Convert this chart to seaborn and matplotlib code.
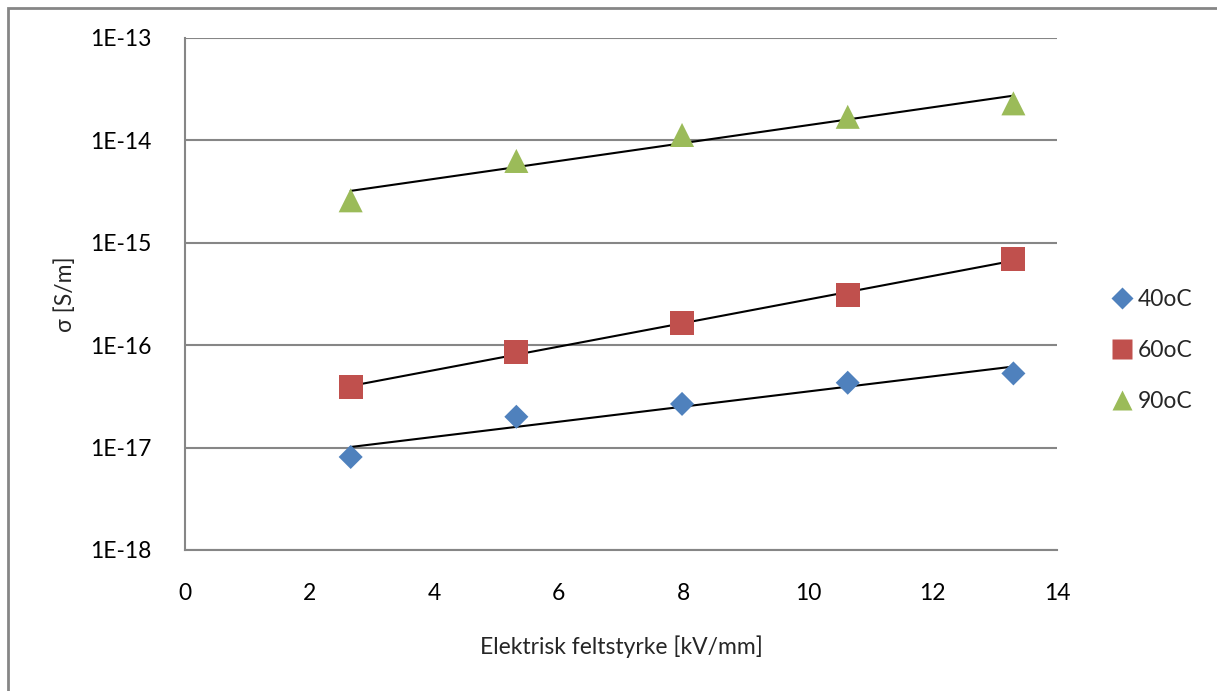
import numpy as np
import pandas as pd
import matplotlib
matplotlib.use("Agg")
import matplotlib.pyplot as plt
import seaborn as sns
from matplotlib.patches import Rectangle
from matplotlib.ticker import FixedLocator, FixedFormatter
from matplotlib.lines import Line2D

# ---- data ----
field = [2.66, 5.32, 7.98, 10.64, 13.30]
sigma_40 = [8.1e-18, 2.0e-17, 2.67e-17, 4.3e-17, 5.3e-17]
sigma_60 = [3.9e-17, 8.5e-17, 1.65e-16, 3.1e-16, 6.9e-16]
sigma_90 = [2.6e-15, 6.3e-15, 1.13e-14, 1.7e-14, 2.3e-14]
series_names = ["40oC", "60oC", "90oC"]
ytick_vals = [1e-18, 1e-17, 1e-16, 1e-15, 1e-14, 1e-13]
ytick_labels = ["1E-18", "1E-17", "1E-16", "1E-15", "1E-14", "1E-13"]
xticks = [0, 2, 4, 6, 8, 10, 12, 14]

colors = {"40oC": "#4F81BD", "60oC": "#C0504D", "90oC": "#9BBB59"}
markers = {"40oC": "D", "60oC": "s", "90oC": "^"}
sizes = {"40oC": 150, "60oC": 300, "90oC": 300}

df = pd.DataFrame({
    "x": field * 3,
    "y": sigma_40 + sigma_60 + sigma_90,
    "s": [series_names[0]] * 5 + [series_names[1]] * 5 + [series_names[2]] * 5,
})

sns.set_theme(style="white")
plt.rcParams["font.family"] = ["Lato", "DejaVu Sans"]
FS = 16.5

fig = plt.figure(figsize=(12.17, 6.91), dpi=100)
ax = fig.add_axes([185/1217, 1 - 550/691, (1057-185)/1217, (550-38)/691])

# outer border
fig.patches.append(Rectangle((8/1217, -0.1), 1.2, 1 - 8/691 + 0.1, transform=fig.transFigure,
                             fill=False, edgecolor="#868686", linewidth=2))

ax.set_yscale("log")
ax.set_ylim(1e-18, 1e-13)
ax.set_xlim(0, 14)

# trendlines (exponential fit)
for name, vals in zip(series_names, [sigma_40, sigma_60, sigma_90]):
    b, a = np.polyfit(field, np.log(vals), 1)
    xs = np.array([field[0], field[-1]])
    ax.plot(xs, np.exp(a + b * xs), color="black", lw=1.5, zorder=2)

for name in series_names:
    sub = df[df["s"] == name]
    sns.scatterplot(data=sub, x="x", y="y", ax=ax, color=colors[name], marker=markers[name],
                    s=sizes[name], edgecolor="none", zorder=3, label=name, legend=False)

ax.yaxis.set_major_locator(FixedLocator(ytick_vals))
ax.yaxis.set_major_formatter(FixedFormatter(ytick_labels))
ax.yaxis.set_minor_locator(FixedLocator([]))
ax.set_xticks(xticks)
ax.set_xticklabels([str(t) for t in xticks])
ax.tick_params(axis="both", length=0, labelsize=FS, colors="black")
ax.tick_params(axis="x", pad=24)
ax.tick_params(axis="y", pad=24)
ax.grid(axis="y", color="#868686", lw=1.5)
ax.grid(axis="x", visible=False)
for sp in ["top", "right"]:
    ax.spines[sp].set_visible(False)
for sp in ["left", "bottom"]:
    ax.spines[sp].set_color("#868686")
    ax.spines[sp].set_linewidth(1.5)

ax.set_xlabel("Elektrisk feltstyrke [kV/mm]", fontsize=FS, labelpad=22)
ax.set_ylabel("σ [S/m]", fontsize=FS, labelpad=10)

handles = [Line2D([], [], ls="none", marker=markers[n], color=colors[n],
                  markersize=(11 if n == "40oC" else 15), markeredgecolor="none") for n in series_names]
leg = ax.legend(handles, series_names, loc="center left", bbox_to_anchor=(1.035, 0.39),
                frameon=False, fontsize=FS, handletextpad=0.1, labelspacing=1.3,
                handlelength=1.2)

fig.savefig("out.png", dpi=100)
